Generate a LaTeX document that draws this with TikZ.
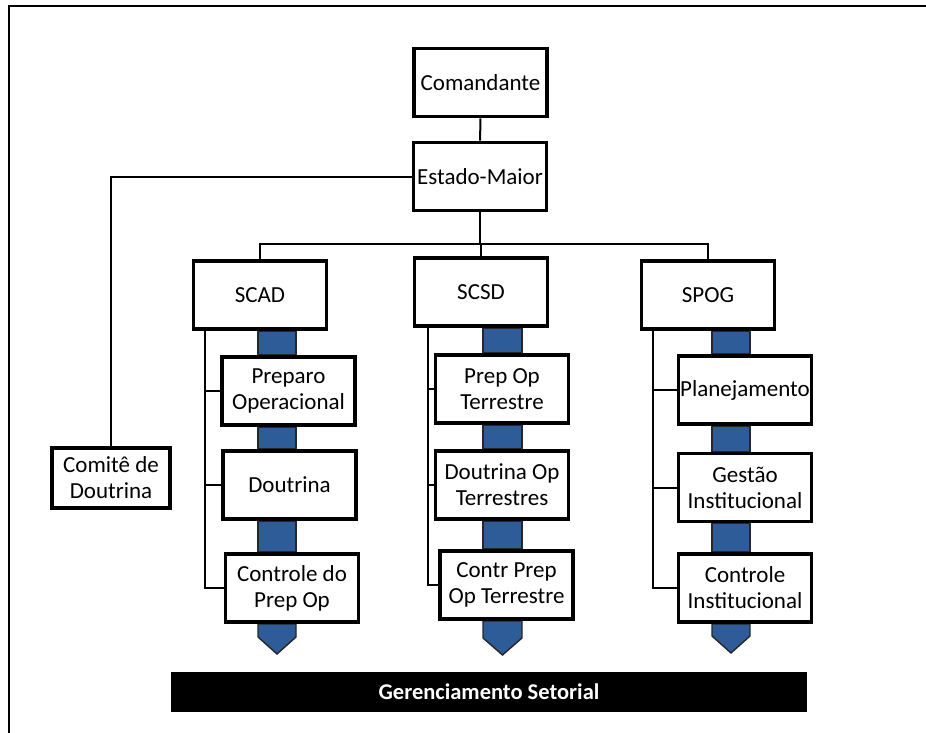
\documentclass[tikz,border=0pt]{standalone}
\usepackage{fontspec}
\setmainfont{Carlito}
\usetikzlibrary{calc}
\pgfdeclarelayer{background}
\pgfsetlayers{background,main}
\definecolor{barblue}{RGB}{46,92,152}

\begin{document}
\begin{tikzpicture}[x=1pt,y=-1pt,
  box/.style={draw, line width=3.8pt, fill=white, inner sep=0pt, align=center,
    minimum width=133pt, minimum height=68pt, font=\fontsize{23}{26}\selectfont},
  link/.style={line width=2pt},
  flow/.style={fill=barblue, draw=black!85, line width=1.4pt, line join=miter},
  frame/.style={line width=2.5pt}]
\useasboundingbox (0,0) rectangle (926,733);

% outer frame (top and left edges only)
\draw[frame] (926,6) -- (9,6) -- (9,733);

% command level
\node[box] (com) at (480.5,82.5) {Comandante};
\node[box] (est) at (480,176.5) {Estado-Maior};
\node[box, minimum width=118.5pt, minimum height=60.5pt] (cdt) at (111,478) {Comitê de\\Doutrina};

% sub-chiefs
\node[box] (scad) at (260,295) {SCAD};
\node[box] (scsd) at (481,292) {SCSD};
\node[box] (spog) at (708,295) {SPOG};

% SCAD column
\node[box] (a1) at (288.5,391) {Preparo\\Operacional};
\node[box] (a2) at (289.5,485) {Doutrina};
\node[box] (a3) at (292,588) {Controle do\\Prep Op};

% SCSD column
\node[box] (b1) at (502,389) {Prep Op\\Terrestre};
\node[box] (b2) at (502,485) {Doutrina Op\\Terrestres};
\node[box] (b3) at (506.5,585) {Contr Prep\\Op Terrestre};

% SPOG column
\node[box] (c1) at (745,390) {Planejamento};
\node[box] (c2) at (745,487.5) {Gestão\\Institucional};
\node[box] (c3) at (745,588) {Controle\\Institucional};

% sector management bar
\node[fill=black, minimum width=636pt, minimum height=40pt, inner sep=0pt,
  text=white, font=\bfseries\fontsize{22.5}{24}\selectfont] (bar) at (489,692) {Gerenciamento Setorial};

% helper coordinates
\coordinate (bus) at (0,244);
\coordinate (sa) at (205,0);
\coordinate (sb) at (428,0);
\coordinate (sc) at (653,0);
\coordinate (al) at (258,0); \coordinate (ar) at (296,0);
\coordinate (bl) at (483,0); \coordinate (br) at (522,0);
\coordinate (cl) at (712,0); \coordinate (cr) at (750,0);

% hierarchy lines
\draw[link] (com) -- (est);
\draw[link] (est.west) -- (cdt.north |- est.west) -- (cdt.north);
\draw[link] (est.south) -- (est.south |- bus);
\draw[link] (scad.north) -- (scad.north |- bus) -- (spog.north |- bus) -- (spog.north);
\draw[link] (scsd.north) -- (scsd.north |- bus);

% column spines
\draw[link] (sa |- scad.south) -- (sa |- a3.west) -- (a3.west);
\draw[link] (sa |- a1.west) -- (a1.west);
\draw[link] (sa |- a2.west) -- (a2.west);
\draw[link] (sb |- scsd.south) -- (sb |- b3.west) -- (b3.west);
\draw[link] (sb |- b1.west) -- (b1.west);
\draw[link] (sb |- b2.west) -- (b2.west);
\draw[link] (sc |- spog.south) -- (sc |- c3.west) -- (c3.west);
\draw[link] (sc |- c1.west) -- (c1.west);
\draw[link] (sc |- c2.west) -- (c2.west);

% blue flow bars behind the boxes
\begin{pgfonlayer}{background}
  \draw[flow] (al |- scad.south) rectangle (ar |- a1.north);
  \draw[flow] (al |- a1.south) rectangle (ar |- a2.north);
  \draw[flow] (al |- a2.south) rectangle (ar |- a3.north);
  \draw[flow] (al |- a3.south) -- (ar |- a3.south) -- (296,637) -- (277,654) -- (258,637) -- cycle;
  \draw[flow] (bl |- scsd.south) rectangle (br |- b1.north);
  \draw[flow] (bl |- b1.south) rectangle (br |- b2.north);
  \draw[flow] (bl |- b2.south) rectangle (br |- b3.north);
  \draw[flow] (bl |- b3.south) -- (br |- b3.south) -- (522,638) -- (502.5,655) -- (483,638) -- cycle;
  \draw[flow] (cl |- spog.south) rectangle (cr |- c1.north);
  \draw[flow] (cl |- c1.south) rectangle (cr |- c2.north);
  \draw[flow] (cl |- c2.south) rectangle (cr |- c3.north);
  \draw[flow] (cl |- c3.south) -- (cr |- c3.south) -- (750,636) -- (731,653) -- (712,636) -- cycle;
\end{pgfonlayer}
\end{tikzpicture}
\end{document}
